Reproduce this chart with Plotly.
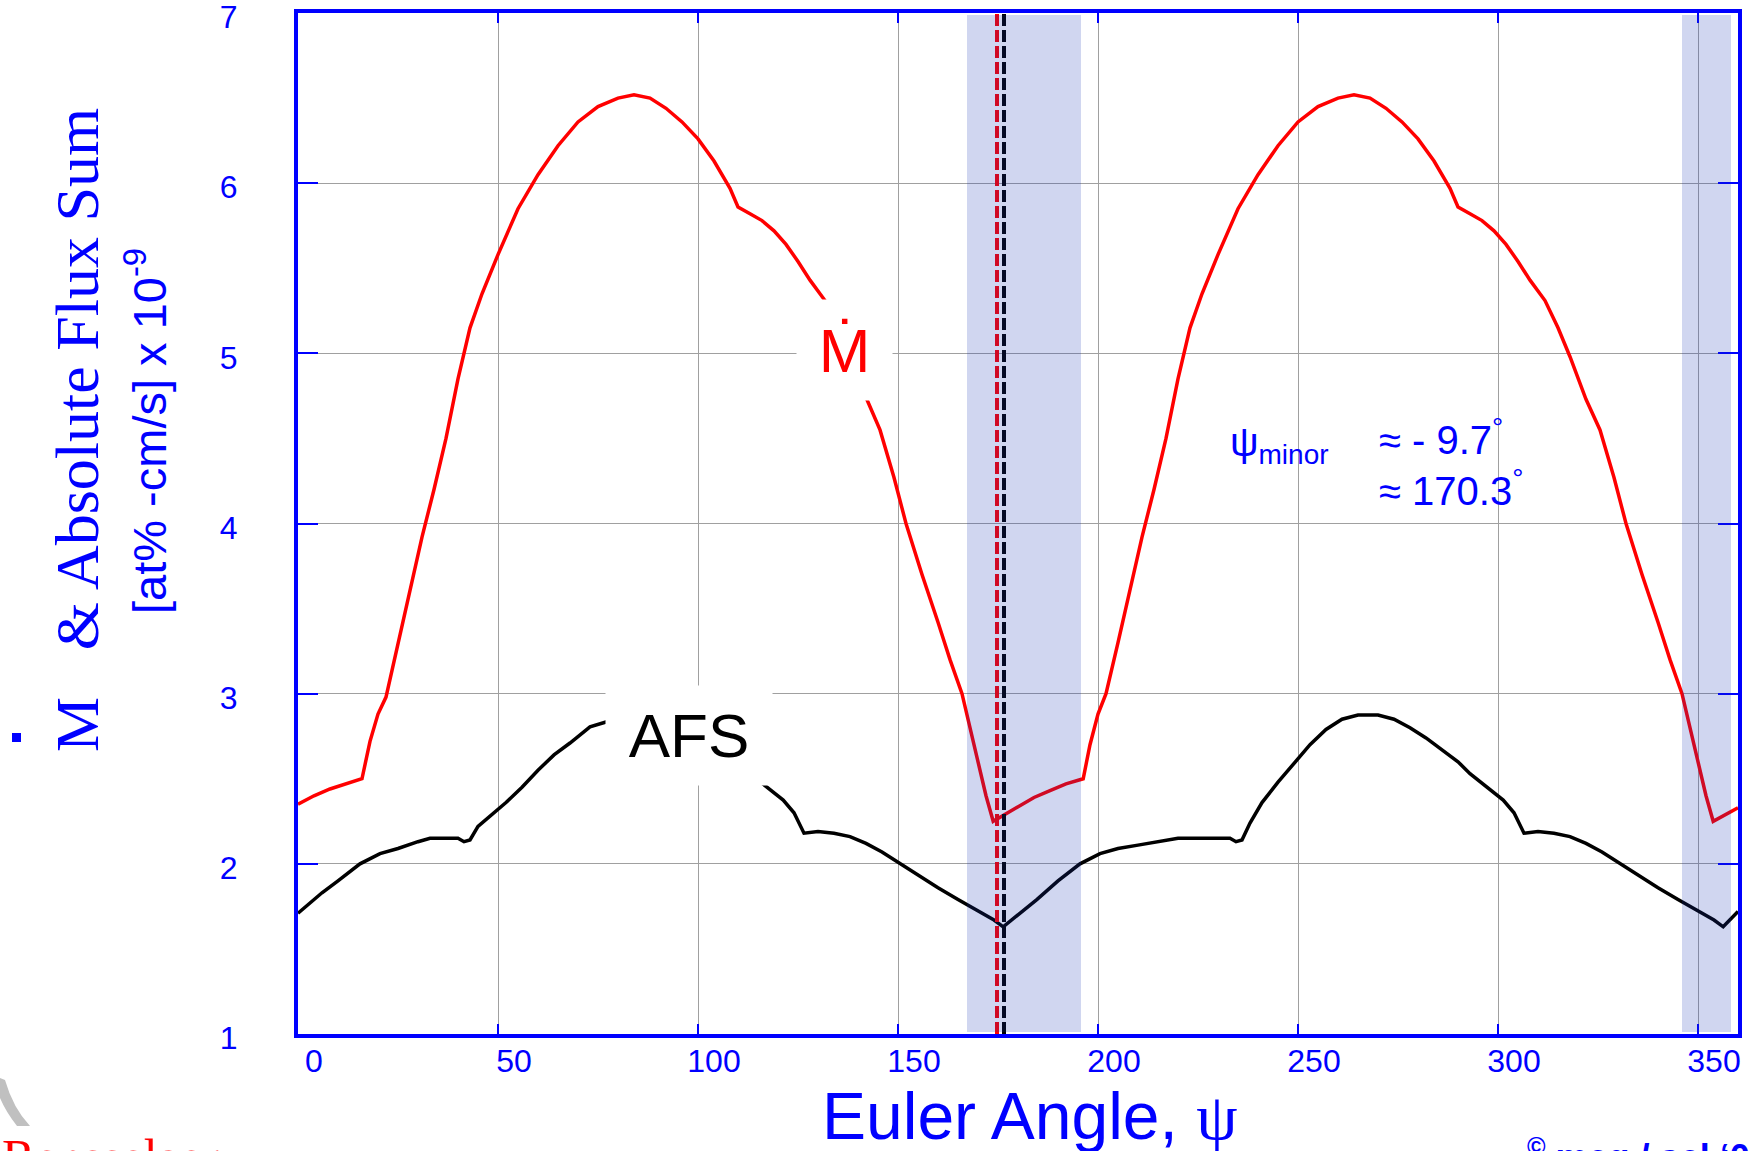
import plotly.graph_objects as go

# ---------------- data ----------------
psi_mdot = [0, 4, 8, 12, 16, 18, 20, 22, 25, 28, 31, 34, 37, 40, 43, 46, 50, 55, 60, 65,
            70, 75, 80, 84, 88, 92, 96, 100, 104, 108, 110, 113, 116, 119, 122, 125, 128,
            131.75, 135, 138, 142.2, 145.5, 149, 152, 156, 160, 163, 166, 169, 172, 173.8,
            176, 180, 184, 188, 192, 196.3, 198, 200, 202, 205, 208, 211, 214, 217, 220,
            223, 226, 230, 235, 240, 245, 250, 255, 260, 264, 268, 272, 276, 280, 284, 288,
            290, 293, 296, 299, 302, 305, 308, 311.75, 315, 318, 322, 325.5, 329, 332, 336,
            340, 343, 346, 349, 352, 353.8, 356, 360]
mdot = [2.35, 2.40, 2.44, 2.47, 2.50, 2.72, 2.88, 2.98, 3.30, 3.62, 3.92, 4.20, 4.50, 4.85,
        5.15, 5.35, 5.58, 5.85, 6.05, 6.22, 6.36, 6.45, 6.50, 6.52, 6.50, 6.44, 6.36, 6.26,
        6.13, 5.97, 5.86, 5.82, 5.78, 5.72, 5.64, 5.54, 5.43, 5.31, 5.15, 4.98, 4.73, 4.55,
        4.27, 4.00, 3.70, 3.42, 3.20, 3.00, 2.70, 2.40, 2.25,
        2.28, 2.33, 2.39, 2.43, 2.47, 2.50, 2.70, 2.88, 3.00, 3.30, 3.62, 3.92, 4.20, 4.50,
        4.85, 5.15, 5.35, 5.58, 5.85, 6.05, 6.22, 6.36, 6.45, 6.50, 6.52, 6.50, 6.44, 6.36,
        6.26, 6.13, 5.97, 5.86, 5.82, 5.78, 5.72, 5.64, 5.54, 5.43, 5.31, 5.15, 4.98, 4.73,
        4.55, 4.27, 4.00, 3.70, 3.42, 3.20, 3.00, 2.70, 2.40, 2.25, 2.28, 2.33]

psi_afs = [0, 3, 6, 10, 15.5, 20.5, 25, 30, 33, 37, 40, 41.5, 43, 45, 48, 52, 56, 60, 64,
           68, 73, 77.2, 81, 86, 90, 94, 98, 102, 106, 110, 113, 116.75, 121.3, 124, 126.5,
           130, 134, 138, 142, 146, 150, 155, 160, 165, 170, 174, 176.3,
           180, 184.7, 190, 195.5, 200.5, 205, 210, 215, 220, 225, 230, 233, 234.5, 236,
           238, 241, 245, 249, 253, 257, 261, 265, 270, 274, 278, 282, 286, 290,
           293, 296.75, 301.3, 304, 306.5, 310, 314, 318, 322, 326, 330, 335, 340, 345,
           350, 354, 356.3, 360]
afs = [1.71, 1.77, 1.83, 1.90, 2.00, 2.06, 2.09, 2.13, 2.15, 2.15, 2.15, 2.13, 2.14, 2.22,
       2.28, 2.36, 2.45, 2.55, 2.64, 2.71, 2.805, 2.835, 2.87, 2.875, 2.875, 2.85, 2.80,
       2.74, 2.67, 2.60, 2.53, 2.46, 2.375, 2.30, 2.18, 2.19, 2.18, 2.16, 2.12, 2.07, 2.01,
       1.93, 1.86, 1.79, 1.72, 1.67, 1.63,
       1.70, 1.79, 1.90, 2.00, 2.06, 2.09, 2.11, 2.13, 2.15, 2.15, 2.15, 2.15, 2.13, 2.14,
       2.24, 2.36, 2.48, 2.59, 2.70, 2.79, 2.85, 2.875, 2.875, 2.85, 2.80, 2.74,
       2.67, 2.60, 2.53, 2.46, 2.375, 2.30, 2.18, 2.19, 2.18, 2.16, 2.12, 2.07, 2.01, 1.93,
       1.86, 1.79, 1.72, 1.67, 1.63, 1.72]

x_ticks = [0, 50, 100, 150, 200, 250, 300, 350]
y_ticks = [1, 2, 3, 4, 5, 6, 7]
shade_bands = [[167.25, 195.75], [346.0, 358.25]]
psi_min_mdot = 174.75
psi_min_afs = 176.5

# ---------------- layout helpers ----------------
W, H = 1760, 1151
L, R, T, B = 298, 22, 13, 117
PW, PH = W - L - R, H - T - B


def px(xp):
    return (xp - L) / PW


def py(yp):
    return (H - B - yp) / PH


BLUE = "#0000ff"
SANS = "Liberation Sans, Arial, sans-serif"
SERIF = "Liberation Serif, Times New Roman, serif"

fig = go.Figure()
fig.add_trace(go.Scatter(x=psi_mdot, y=mdot, mode="lines",
                         line=dict(color="#ff0000", width=3.5), showlegend=False))
fig.add_trace(go.Scatter(x=psi_afs, y=afs, mode="lines",
                         line=dict(color="#000000", width=3.5), showlegend=False))

shapes = []
for xv, col in [(psi_min_mdot, "#ff0000"), (psi_min_afs, "#000000")]:
    shapes.append(dict(type="line", xref="x", yref="paper", x0=xv, x1=xv, y0=0, y1=1,
                       line=dict(color=col, width=4, dash="12px,4px"), layer="above"))
for a, b in shade_bands:
    shapes.append(dict(type="rect", xref="x", yref="paper", x0=a, x1=b,
                       y0=py(1032), y1=py(15), fillcolor="rgba(20,50,180,0.2)",
                       line=dict(width=0), layer="above"))
# dot of M-dot on axis title
shapes.append(dict(type="rect", xref="paper", yref="paper", x0=px(12), x1=px(21),
                   y0=py(742), y1=py(733), fillcolor=BLUE, line=dict(width=0)))
# grey arc of logo
path = (f"M {px(0)},{py(1078)} L {px(5)},{py(1080)} Q {px(13)},{py(1108)} {px(30)},{py(1126)} "
        f"L {px(17)},{py(1126)} Q {px(6)},{py(1112)} {px(0)},{py(1098)} Z")
shapes.append(dict(type="path", xref="paper", yref="paper", path=path,
                   fillcolor="#c0c0c0", line=dict(width=0)))

annotations = [
    # y axis title
    dict(xref="paper", yref="paper", x=px(77), y=py(430), textangle=-90,
         text="M&nbsp;&nbsp;&nbsp;&amp; Absolute Flux Sum", showarrow=False,
         font=dict(family=SERIF, size=62, color=BLUE), xanchor="center", yanchor="middle"),
    dict(xref="paper", yref="paper", x=px(146), y=py(431), textangle=-90,
         text="[at% -cm/s] x 10<sup>-9</sup>", showarrow=False,
         font=dict(family=SANS, size=47, color=BLUE), xanchor="center", yanchor="middle"),
    # x axis title
    dict(xref="paper", yref="paper", x=px(1030), y=py(1116),
         text="Euler Angle, <span style='font-family:Liberation Serif'>ψ</span>",
         showarrow=False, font=dict(family=SANS, size=66, color=BLUE),
         xanchor="center", yanchor="middle"),
    # curve labels
    dict(xref="x", yref="y", x=136.6, y=5.02, text="Ṁ", showarrow=False,
         font=dict(family=SANS, size=62, color="#ff0000"), bgcolor="#ffffff",
         width=93, height=98, xanchor="center", yanchor="middle"),
    dict(xref="x", yref="y", x=97.75, y=2.754, text="AFS", showarrow=False,
         font=dict(family=SANS, size=62, color="#000000"), bgcolor="#ffffff",
         width=164, height=97, xanchor="center", yanchor="middle"),
    # psi minor
    dict(xref="x", yref="y", x=232.5, y=4.46, text="ψ<sub>minor</sub>", showarrow=False,
         font=dict(family=SANS, size=40, color=BLUE), xanchor="left", yanchor="middle"),
    dict(xref="x", yref="y", x=269.75, y=4.51, text="≈ - 9.7<sup>°</sup>", showarrow=False,
         font=dict(family=SANS, size=40, color=BLUE), xanchor="left", yanchor="middle"),
    dict(xref="x", yref="y", x=269.75, y=4.21, text="≈ 170.3<sup>°</sup>", showarrow=False,
         font=dict(family=SANS, size=40, color=BLUE), xanchor="left", yanchor="middle"),
    # footer
    dict(xref="paper", yref="paper", x=px(0), y=py(1127), text="Rensselaer",
         showarrow=False, font=dict(family=SERIF, size=50, color="#ff0000"),
         xanchor="left", yanchor="top"),
    dict(xref="paper", yref="paper", x=px(1525), y=py(1130),
         text="<b><sup>©</sup> mcg / scl ‘0</b>", showarrow=False,
         font=dict(family=SANS, size=36, color=BLUE), xanchor="left", yanchor="top"),
]

axis_common = dict(showline=True, linecolor=BLUE, linewidth=4, mirror="allticks",
                   showgrid=True, gridcolor="#a0a0a0", gridwidth=1, zeroline=False,
                   ticks="inside", tickcolor=BLUE, tickwidth=2, automargin=False,
                   ticklabeloverflow="allow",
                   tickfont=dict(family=SANS, size=32, color=BLUE))

fig.update_layout(
    width=W, height=H, margin=dict(l=L, r=R, t=T, b=B),
    paper_bgcolor="#ffffff", plot_bgcolor="#ffffff",
    xaxis=dict(range=[0, 360], tickvals=x_ticks, ticktext=[str(v) for v in x_ticks],
               ticklen=10, ticklabelshift=16, ticklabelstandoff=-4, **axis_common),
    yaxis=dict(range=[1, 7], tickvals=y_ticks, ticktext=[str(v) for v in y_ticks],
               ticklen=20, ticklabelstandoff=50, ticklabelshift=4, **axis_common),
    shapes=shapes, annotations=annotations,
)

fig.write_html("out.html")
